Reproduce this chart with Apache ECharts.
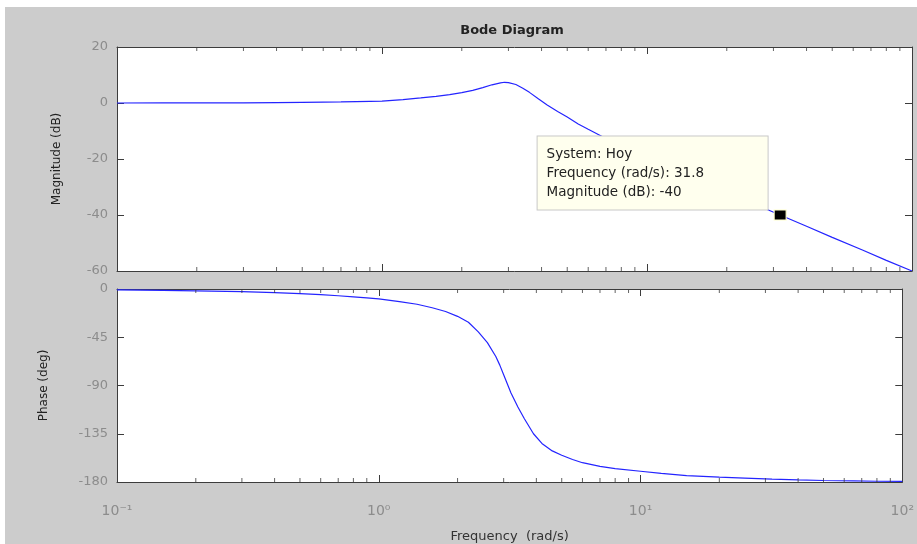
<!DOCTYPE html>
<html>
<head>
<meta charset="utf-8">
<script src="https://cdn.jsdelivr.net/npm/echarts@6/dist/echarts.min.js"></script>
<style>
  html, body { margin: 0; padding: 0; background: #ffffff; }
  #chart { width: 917px; height: 544px; }
</style>
</head>
<body>
<div id="chart"></div>
<script>
// ---- data ----
const freqs = [0.1, 0.15, 0.2, 0.3, 0.4, 0.5, 0.6, 0.7, 0.8, 0.9, 1.0, 1.2, 1.4, 1.6, 1.8, 2.0, 2.2, 2.4, 2.6, 2.8, 2.9, 3.0, 3.2, 3.4, 3.6, 3.9, 4.2, 4.6, 5.0, 5.5, 6.0, 7.0, 8.0, 10, 12, 15, 20, 25, 31.8, 40, 50, 65, 80, 100];
const magnitudeDb = [0.0, 0.02, 0.03, 0.07, 0.13, 0.2, 0.3, 0.4, 0.5, 0.6, 0.7, 1.2, 1.8, 2.4, 3.0, 3.7, 4.5, 5.5, 6.5, 7.2, 7.4, 7.3, 6.6, 5.3, 3.8, 1.4, -0.7, -3.0, -5.0, -7.5, -9.4, -12.7, -15.0, -19.2, -22.5, -26.5, -31.6, -35.8, -40.0, -44.0, -48.0, -52.5, -56.2, -60.0];
const phaseDeg = [-0.8, -1.2, -1.7, -2.5, -3.4, -4.3, -5.3, -6.3, -7.3, -8.3, -9.2, -11.7, -14.2, -17.5, -21.0, -25.5, -31.0, -40.0, -50.0, -63.0, -71.0, -80.0, -97.0, -110.0, -121.0, -135.0, -144.0, -151.0, -155.0, -159.0, -162.0, -165.5, -167.5, -170.0, -172.0, -174.0, -175.5, -176.3, -177.3, -178.0, -178.6, -179.0, -179.3, -179.5];
const minorTickFreqs = [0.2, 0.3, 0.4, 0.5, 0.6, 0.7, 0.8, 0.9, 2, 3, 4, 5, 6, 7, 8, 9, 20, 30, 40, 50, 60, 70, 80, 90];
const freqRange = [0.1, 100];
const magRange = [-60, 20];
const magStep = 20;
const phaseRange = [-180, 0];
const phaseStep = 45;
const tipFreq = 31.8;
const tipMag = -40;
const systemName = 'Hoy';

// ---- chart ----
const FONT = 'DejaVu Sans';
const AXIS_COLOR = '#3c3c3c';
const LABEL_COLOR = '#8c8c8c';
const LINE_COLOR = '#2424ff';
const SUP = { '-': '\u207B', '0': '\u2070', '1': '\u00B9', '2': '\u00B2', '3': '\u00B3' };

function decadeLabel(v) {
  const e = String(Math.round(Math.log10(v)));
  return '10' + e.split('').map(function (c) { return SUP[c] || c; }).join('');
}

const chart = echarts.init(document.getElementById('chart'), null, { renderer: 'canvas' });

const grids = [
  { left: 117, top: 47, width: 795, height: 224, show: true, backgroundColor: '#ffffff', borderWidth: 0 },
  { left: 117, top: 289, width: 795, height: 197, show: true, backgroundColor: '#ffffff', borderWidth: 0 }
];

function xAxisFor(gridIndex, position, showLabels, extra) {
  return Object.assign({
    type: 'log', logBase: 10, gridIndex: gridIndex, position: position,
    min: freqRange[0], max: freqRange[1],
    axisLine: { show: true, onZero: false, lineStyle: { color: AXIS_COLOR, width: 1 } },
    axisTick: { show: true, inside: true, length: 7, lineStyle: { color: AXIS_COLOR } },
    splitLine: { show: false },
    axisLabel: showLabels ? {
      show: true, margin: 22, fontFamily: FONT, fontSize: 14, color: LABEL_COLOR,
      formatter: decadeLabel, alignMaxLabel: 'center', alignMinLabel: 'center'
    } : { show: false }
  }, extra || {});
}

function yAxisFor(gridIndex, position, range, step, showLabels, name, nameGap) {
  return {
    type: 'value', gridIndex: gridIndex, position: position,
    min: range[0], max: range[1], interval: step,
    name: name || '', nameLocation: 'middle', nameGap: nameGap || 0,
    nameTextStyle: { fontFamily: FONT, fontSize: 12, color: '#222' },
    axisLine: { show: true, onZero: false, lineStyle: { color: AXIS_COLOR, width: 1 } },
    axisTick: { show: true, inside: true, length: 7, lineStyle: { color: AXIS_COLOR } },
    splitLine: { show: false },
    axisLabel: showLabels ? { show: true, margin: 9, fontFamily: FONT, fontSize: 13, color: LABEL_COLOR } : { show: false }
  };
}

const xAxes = [
  xAxisFor(0, 'bottom', false),
  xAxisFor(0, 'top', false),
  xAxisFor(1, 'bottom', true, {
    name: 'Frequency  (rad/s)', nameLocation: 'middle', nameGap: 48,
    nameTextStyle: { fontFamily: FONT, fontSize: 13, color: '#333' }
  }),
  xAxisFor(1, 'top', false)
];

const yAxes = [
  yAxisFor(0, 'left', magRange, magStep, true, 'Magnitude (dB)', 54),
  yAxisFor(0, 'right', magRange, magStep, false),
  yAxisFor(1, 'left', phaseRange, phaseStep, true, 'Phase (deg)', 67),
  yAxisFor(1, 'right', phaseRange, phaseStep, false)
];

function minorTicks(xIdx, yIdx, yVal, dir) {
  return {
    type: 'scatter', xAxisIndex: xIdx, yAxisIndex: yIdx, silent: true, clip: false,
    symbol: 'rect', symbolSize: [1, 4], symbolOffset: [0, 2 * dir],
    itemStyle: { color: AXIS_COLOR },
    data: minorTickFreqs.map(function (f) { return [f, yVal]; }),
    z: 5
  };
}

const magData = freqs.map(function (f, i) { return [f, magnitudeDb[i]]; });
const phaseData = freqs.map(function (f, i) { return [f, phaseDeg[i]]; });

chart.setOption({
  animation: false,
  backgroundColor: '#cccccc',
  graphic: [
    { type: 'rect', shape: { x: 0, y: 0, width: 917, height: 7 }, style: { fill: '#ffffff' }, z: 100 },
    { type: 'rect', shape: { x: 0, y: 0, width: 5, height: 544 }, style: { fill: '#ffffff' }, z: 100 },
    { type: 'text', x: 512, y: 31, style: { text: 'Bode Diagram', fontFamily: FONT, fontSize: 13, fontWeight: 'bold', fill: '#222', textAlign: 'center', textVerticalAlign: 'middle' } }
  ],
  grid: grids,
  xAxis: xAxes,
  yAxis: yAxes,
  series: [
    {
      name: 'Magnitude', type: 'line', xAxisIndex: 0, yAxisIndex: 0,
      data: magData, showSymbol: false, symbol: 'none',
      lineStyle: { color: LINE_COLOR, width: 1.2 }, silent: true, z: 3,
      markPoint: {
        silent: true,
        symbol: 'rect', symbolSize: [12, 10],
        itemStyle: { color: '#000000', borderColor: '#ffffcc', borderWidth: 1 },
        data: [{ coord: [tipFreq, tipMag], value: tipMag }],
        label: {
          show: true,
          position: [-236, -73],
          align: 'left', verticalAlign: 'top',
          formatter: 'System: ' + systemName + '\nFrequency (rad/s): ' + tipFreq + '\nMagnitude (dB): ' + tipMag,
          fontFamily: FONT, fontSize: 13.5, color: '#222', lineHeight: 19,
          backgroundColor: '#ffffee', borderColor: '#c8c8c8', borderWidth: 1,
          padding: [8, 10, 8, 9], width: 211
        }
      }
    },
    {
      name: 'Phase', type: 'line', xAxisIndex: 2, yAxisIndex: 2,
      data: phaseData, showSymbol: false, symbol: 'none',
      lineStyle: { color: LINE_COLOR, width: 1.2 }, silent: true, z: 3
    },
    minorTicks(1, 0, magRange[1], 1),
    minorTicks(0, 0, magRange[0], -1),
    minorTicks(3, 2, phaseRange[1], 1),
    minorTicks(2, 2, phaseRange[0], -1)
  ]
});
</script>
</body>
</html>
